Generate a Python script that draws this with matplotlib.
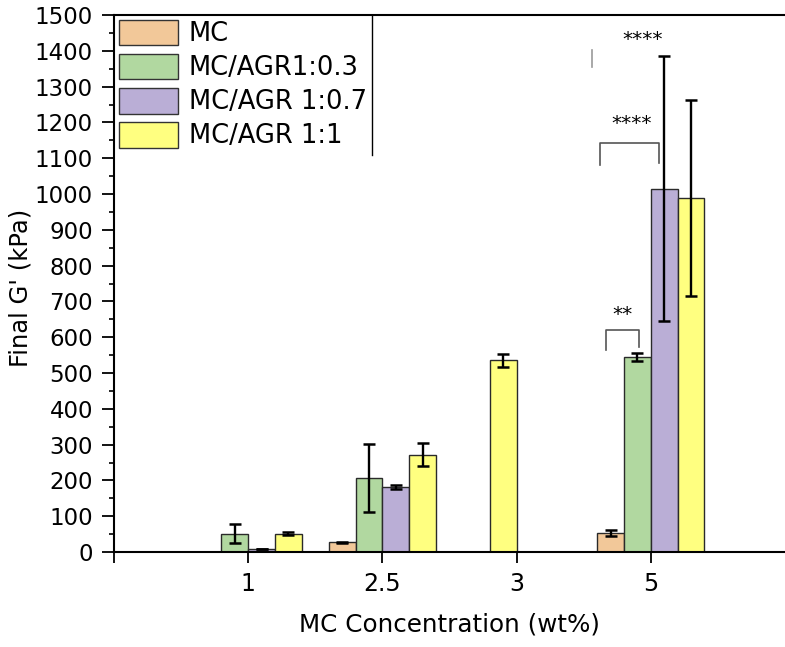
import numpy as np
import matplotlib
matplotlib.use("Agg")
import matplotlib.pyplot as plt
from matplotlib.ticker import MultipleLocator, FixedLocator

plt.rcParams['font.family'] = ['DejaVu Sans']

# Data
categories = ['1', '2.5', '3', '5']
series = ['MC', 'MC/AGR1:0.3', 'MC/AGR 1:0.7', 'MC/AGR 1:1']
colors = ['#F2C899', '#B1D8A0', '#BAAED6', '#FFFF80']

mc_vals = [np.nan, 27, np.nan, 53]
mc_err = [0, 2, 0, 8]
agr03_vals = [51, 208, np.nan, 545]
agr03_err = [26, 95, 0, 12]
agr07_vals = [8, 182, np.nan, 1015]
agr07_err = [1, 5, 0, 370]
agr11_vals = [51, 272, 536, 988]
agr11_err = [4, 33, 18, 274]

values = [mc_vals, agr03_vals, agr07_vals, agr11_vals]
errors = [mc_err, agr03_err, agr07_err, agr11_err]

# Config
bar_w = 0.2
offsets = [-0.3, -0.1, 0.1, 0.3]
# at 3 wt% the only bar sits in the second slot
slot_override = {(3, 2): 1}

fig = plt.figure(figsize=(7.85, 6.47), dpi=100)
ax = fig.add_axes([114 / 785, 1 - 552 / 647, (785 - 114) / 785, (552 - 15) / 647])

x = np.arange(len(categories))
for s in range(len(series)):
    for i in range(len(categories)):
        v = values[s][i]
        if np.isnan(v):
            continue
        slot = slot_override.get((s, i), s)
        xpos = x[i] + offsets[slot]
        ax.bar(xpos, v, width=bar_w, color=colors[s], edgecolor='#2a2a2a',
               linewidth=1.0, zorder=2)
        if errors[s][i] > 0:
            ax.errorbar(xpos, v, yerr=errors[s][i], fmt='none', ecolor='black',
                        elinewidth=1.7, capsize=4.6, capthick=1.8, zorder=3)

# legend
handles = [plt.Rectangle((0, 0), 1, 1, facecolor=c, edgecolor='#333333') for c in colors]
ax.legend(handles, series, loc='upper left', bbox_to_anchor=(0, 1),
          fontsize=18.5, frameon=False, handlelength=2.33, handleheight=1.17,
          handletextpad=0.39, labelspacing=0.25, borderpad=0.18, borderaxespad=0)
ax.plot([(372 - 114) / 671] * 2, [1, 1 - 140 / 537], color='black', lw=1,
        transform=ax.transAxes, clip_on=False)

# significance brackets
ax.plot([3 - 0.333, 3 - 0.333, 3 - 0.085, 3 - 0.085], [564, 620, 620, 573],
        color='#555555', lw=1.2, zorder=1)
ax.text(3 - 0.212, 648, '**', ha='center', va='baseline', fontsize=14.5)
ax.plot([3 - 0.379, 3 - 0.379, 3 + 0.064, 3 + 0.064], [1081, 1143, 1143, 1087],
        color='#555555', lw=1.2, zorder=1)
ax.text(3 - 0.144, 1182, '****', ha='center', va='baseline', fontsize=14.5)
ax.plot([3 - 0.437, 3 - 0.437], [1355, 1402], color='#999999', lw=1.2)
ax.text(3 - 0.062, 1416, '****', ha='center', va='baseline', fontsize=14.5)

# axes
ax.set_xlim(-1, 4)
ax.set_ylim(0, 1500)
ax.xaxis.set_major_locator(FixedLocator([-1] + list(x)))
ax.set_xticklabels([''] + categories, fontsize=17)
ax.yaxis.set_major_locator(MultipleLocator(100))
ax.yaxis.set_minor_locator(MultipleLocator(50))
ax.tick_params(axis='y', labelsize=16.5, length=8.6, width=1.3, direction='out', pad=6.5)
ax.tick_params(axis='y', which='minor', length=3.6, width=1.2)
ax.tick_params(axis='x', length=8, width=1.3, direction='out', pad=6.7)
ax.set_ylabel("Final G' (kPa)", fontsize=17.5)
ax.yaxis.set_label_coords(-0.1222, 0.4926)
ax.set_xlabel('MC Concentration (wt%)', fontsize=17.7, labelpad=11.5)
for side in ['left', 'top', 'bottom']:
    ax.spines[side].set_linewidth(1.5)
ax.spines['right'].set_visible(False)

fig.savefig('out.png', dpi=100)
